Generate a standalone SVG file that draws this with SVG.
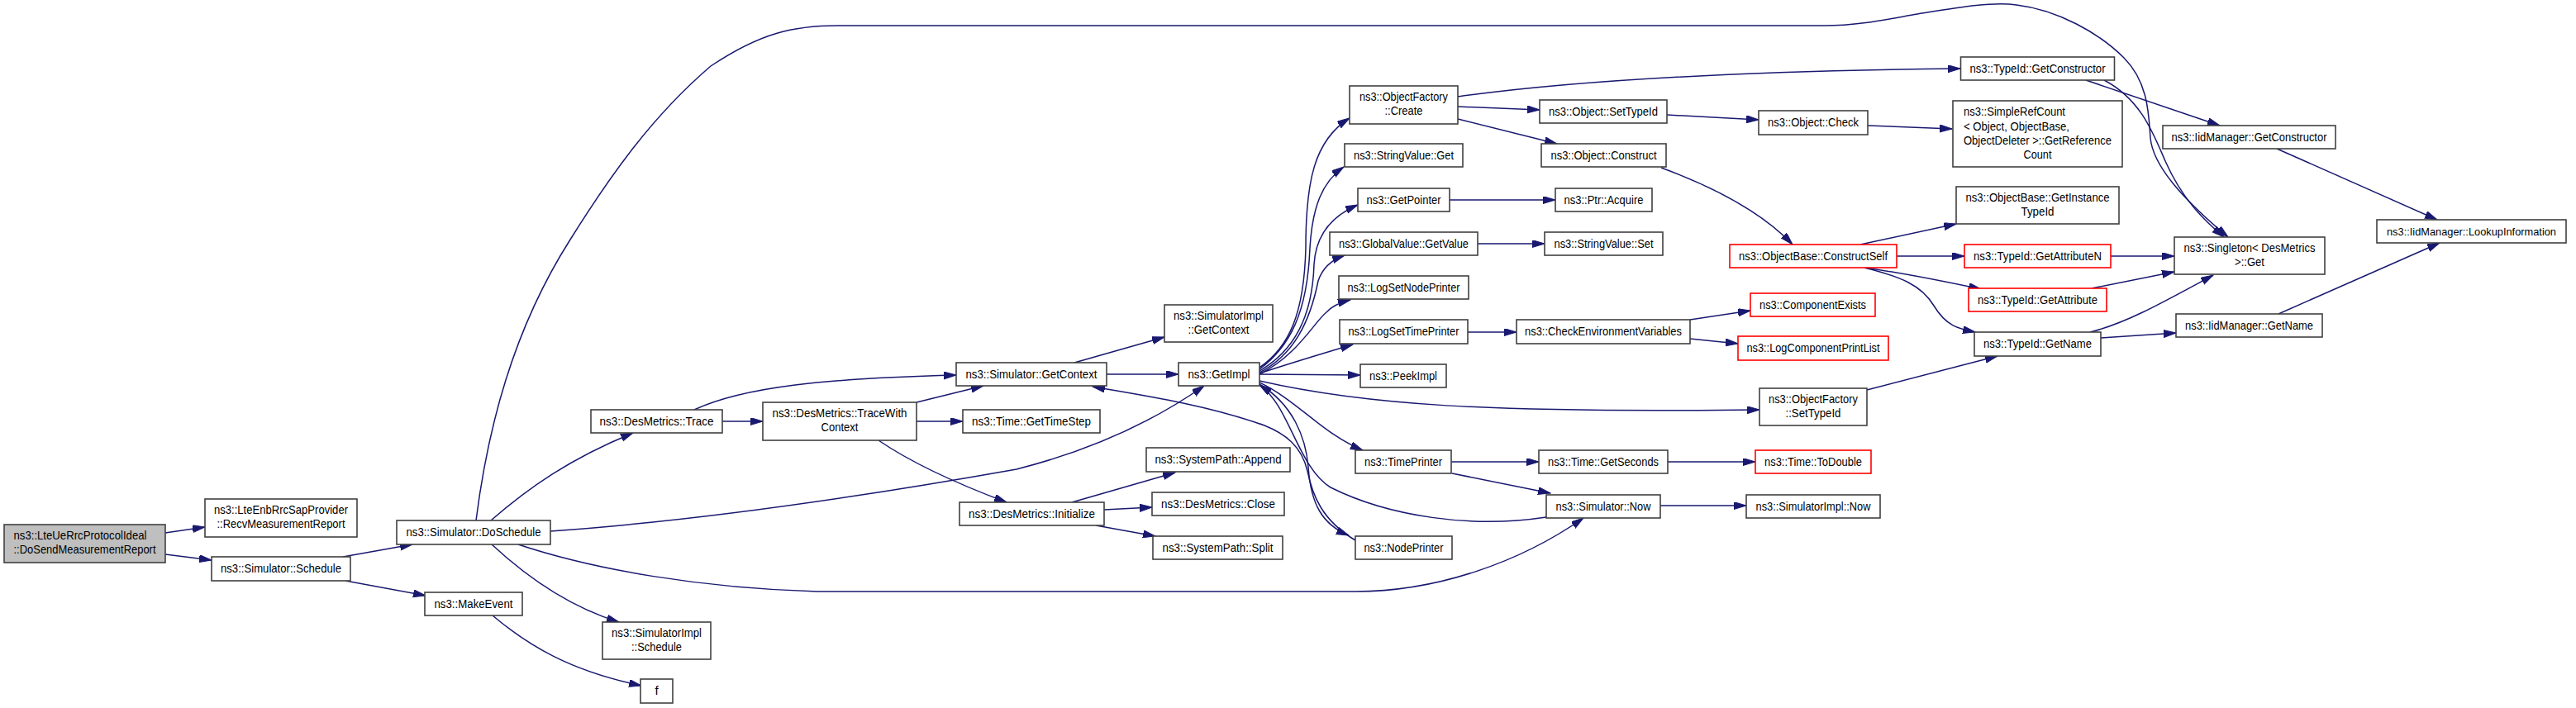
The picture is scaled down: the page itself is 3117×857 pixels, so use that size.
<svg xmlns="http://www.w3.org/2000/svg" width="3117" height="857" viewBox="0 0 3117 857">
<style>
.n rect{fill:#fff;stroke:#404040;stroke-width:1.6}
.r rect{fill:#fff;stroke:#ff0000;stroke-width:1.6}
.m rect{fill:#bfbfbf;stroke:#404040;stroke-width:1.6}
text{font-family:"Liberation Sans",Arial,sans-serif;font-size:15px;fill:#000;text-anchor:middle}
text.l{text-anchor:start}
text.s{font-size:13.5px}
#edges path{fill:none;stroke:#191970;stroke-width:1.5;marker-end:url(#a)}
</style>
<defs>
<marker id="a" markerUnits="userSpaceOnUse" markerWidth="16" markerHeight="10" refX="15" refY="4.5" orient="auto">
<path d="M0,0 L15,4.5 L0,9 Z" fill="#191970" stroke="#191970" stroke-width="1"/>
</marker>
</defs>
<rect width="3117" height="857" fill="#fff"/>
<g id="edges">
<path d="M200,645 L248,638"/>
<path d="M200,671 L256,678"/>
<path d="M415,674 L499,659"/>
<path d="M418,703 L515,721"/>
<path d="M596,745 C640,782 690,812 776,830"/>
<path d="M595,659 C650,710 700,738 749,753"/>
<path d="M594,630 C640,590 690,555 766,524"/>
<path d="M576,630 C590,520 620,400 690,290 C740,210 790,140 860,80 C920,40 960,31 1014,31 L2207,31 C2250,31 2290,22 2320,17 C2370,9 2410,2 2440,6 C2490,12 2540,40 2570,70 C2600,100 2600,140 2602,167 C2605,200 2640,240 2696,287"/>
<path d="M666,643 C850,630 1050,600 1230,568 C1340,540 1410,500 1457,467"/>
<path d="M627,659 C720,690 850,712 989,716 L1640,716 C1740,716 1840,680 1916,627"/>
<path d="M840,496 C900,468 1000,458 1157,454"/>
<path d="M874,510 L923,510"/>
<path d="M1109,487 L1190,467"/>
<path d="M1109,510 L1165,510"/>
<path d="M1063,533 C1110,565 1170,590 1218,608"/>
<path d="M1300,439 L1409,408"/>
<path d="M1339,453 L1426,453"/>
<path d="M1297,608 L1422,572"/>
<path d="M1336,617 L1394,614"/>
<path d="M1326,636 L1398,649"/>
<path d="M1524,445 C1560,420 1578,380 1580,300 C1580,220 1590,170 1633,143"/>
<path d="M1524,447 C1560,420 1582,380 1585,300 C1588,250 1600,220 1626,202"/>
<path d="M1524,449 C1565,425 1588,385 1590,320 C1592,285 1610,262 1643,248"/>
<path d="M1524,451 C1565,430 1585,390 1595,340 C1600,325 1610,315 1627,309"/>
<path d="M1524,453 C1570,430 1590,390 1605,378 C1612,370 1622,366 1634,363"/>
<path d="M1524,452 C1560,440 1600,428 1637,417"/>
<path d="M1524,453 L1646,454"/>
<path d="M1524,461 C1650,490 1800,500 2129,496"/>
<path d="M1524,463 C1570,485 1600,525 1649,545"/>
<path d="M1524,465 C1565,490 1580,530 1583,565 C1586,610 1600,635 1632,648"/>
<path d="M1640,654 C1600,630 1588,600 1582,570 C1575,540 1555,525 1530,515 C1460,490 1380,478 1322,468"/>
<path d="M1871,626 C1780,640 1680,625 1610,590 C1570,565 1560,490 1524,466"/>
<path d="M1757,573 L1876,597"/>
<path d="M2009,612 L2113,612"/>
<path d="M1756,559 L1862,559"/>
<path d="M2018,559 L2124,559"/>
<path d="M1788,295 L1869,295"/>
<path d="M1776,402 L1835,402"/>
<path d="M2045,387 L2118,376"/>
<path d="M2045,410 L2103,416"/>
<path d="M1764,117 C1900,98 2100,86 2372,83"/>
<path d="M1764,129 L1863,133"/>
<path d="M1764,144 L1884,174"/>
<path d="M2017,139 L2128,145"/>
<path d="M2260,152 L2362,156"/>
<path d="M2010,203 C2070,225 2130,255 2169,296"/>
<path d="M1754,242 L1882,242"/>
<path d="M2251,296 L2367,271"/>
<path d="M2295,310 L2377,310"/>
<path d="M2256,324 C2300,330 2350,340 2397,350"/>
<path d="M2256,324 C2300,335 2325,345 2340,370 C2355,395 2370,398 2390,402"/>
<path d="M2259,472 L2417,431"/>
<path d="M2554,310 L2631,310"/>
<path d="M2531,349 L2631,329"/>
<path d="M2529,402 C2570,392 2610,370 2678,333"/>
<path d="M2542,409 L2633,403"/>
<path d="M2757,380 L2952,294"/>
<path d="M2524,97 L2686,152"/>
<path d="M2546,97 C2590,120 2605,160 2620,195 C2640,240 2665,265 2691,287"/>
<path d="M2755,180 L2949,266"/>
</g>
<g id="main" class="m"><rect x="5" y="635" width="195" height="46"/><text class="l" x="16.5" y="653" textLength="161" lengthAdjust="spacingAndGlyphs">ns3::LteUeRrcProtocolIdeal</text><text x="102.5" y="670" textLength="172" lengthAdjust="spacingAndGlyphs">::DoSendMeasurementReport</text></g>
<g id="lteEnb" class="n"><rect x="248" y="604" width="184" height="46"/><text x="340" y="622" textLength="162" lengthAdjust="spacingAndGlyphs">ns3::LteEnbRrcSapProvider</text><text x="340" y="639" textLength="155" lengthAdjust="spacingAndGlyphs">::RecvMeasurementReport</text></g>
<g id="schedule" class="n"><rect x="256" y="674" width="168" height="29"/><text x="340" y="693" textLength="146" lengthAdjust="spacingAndGlyphs">ns3::Simulator::Schedule</text></g>
<g id="doSchedule" class="n"><rect x="480" y="630" width="186" height="29"/><text x="573" y="649" textLength="163" lengthAdjust="spacingAndGlyphs">ns3::Simulator::DoSchedule</text></g>
<g id="makeEvent" class="n"><rect x="514" y="717" width="118" height="28"/><text x="573" y="735.5" textLength="95" lengthAdjust="spacingAndGlyphs">ns3::MakeEvent</text></g>
<g id="simImplSchedule" class="n"><rect x="729" y="753" width="131" height="45"/><text x="794.5" y="771" textLength="109" lengthAdjust="spacingAndGlyphs">ns3::SimulatorImpl</text><text x="794.5" y="788" textLength="61" lengthAdjust="spacingAndGlyphs">::Schedule</text></g>
<g id="f" class="n"><rect x="775" y="822" width="39" height="29"/><text x="794.5" y="841">f</text></g>
<g id="trace" class="n"><rect x="715" y="496" width="159" height="28"/><text x="794.5" y="514.5" textLength="138" lengthAdjust="spacingAndGlyphs">ns3::DesMetrics::Trace</text></g>
<g id="traceWithContext" class="n"><rect x="923" y="487" width="186" height="46"/><text x="1016" y="505" textLength="163" lengthAdjust="spacingAndGlyphs">ns3::DesMetrics::TraceWith</text><text x="1016" y="522" textLength="45" lengthAdjust="spacingAndGlyphs">Context</text></g>
<g id="getContext" class="n"><rect x="1157" y="439" width="182" height="28"/><text x="1248" y="457.5" textLength="159" lengthAdjust="spacingAndGlyphs">ns3::Simulator::GetContext</text></g>
<g id="getTimeStep" class="n"><rect x="1165" y="496" width="166" height="28"/><text x="1248" y="514.5" textLength="144" lengthAdjust="spacingAndGlyphs">ns3::Time::GetTimeStep</text></g>
<g id="initialize" class="n"><rect x="1161" y="608" width="175" height="28"/><text x="1248.5" y="626.5" textLength="153" lengthAdjust="spacingAndGlyphs">ns3::DesMetrics::Initialize</text></g>
<g id="getImpl" class="n"><rect x="1426" y="439" width="98" height="28"/><text x="1475" y="457.5" textLength="75" lengthAdjust="spacingAndGlyphs">ns3::GetImpl</text></g>
<g id="simImplGetContext" class="n"><rect x="1409" y="369" width="131" height="45"/><text x="1474.5" y="387" textLength="109" lengthAdjust="spacingAndGlyphs">ns3::SimulatorImpl</text><text x="1474.5" y="404" textLength="74" lengthAdjust="spacingAndGlyphs">::GetContext</text></g>
<g id="append" class="n"><rect x="1387" y="542" width="174" height="29"/><text x="1474" y="561" textLength="153" lengthAdjust="spacingAndGlyphs">ns3::SystemPath::Append</text></g>
<g id="close" class="n"><rect x="1394" y="596" width="160" height="28"/><text x="1474" y="614.5" textLength="138" lengthAdjust="spacingAndGlyphs">ns3::DesMetrics::Close</text></g>
<g id="split" class="n"><rect x="1395" y="649" width="157" height="28"/><text x="1473.5" y="667.5" textLength="134" lengthAdjust="spacingAndGlyphs">ns3::SystemPath::Split</text></g>
<g id="create" class="n"><rect x="1633" y="104" width="131" height="46"/><text x="1698.5" y="122" textLength="107" lengthAdjust="spacingAndGlyphs">ns3::ObjectFactory</text><text x="1698.5" y="139" textLength="46" lengthAdjust="spacingAndGlyphs">::Create</text></g>
<g id="stringValueGet" class="n"><rect x="1627" y="174" width="143" height="28"/><text x="1698.5" y="192.5" textLength="121" lengthAdjust="spacingAndGlyphs">ns3::StringValue::Get</text></g>
<g id="getPointer" class="n"><rect x="1643" y="228" width="111" height="28"/><text x="1698.5" y="246.5" textLength="90" lengthAdjust="spacingAndGlyphs">ns3::GetPointer</text></g>
<g id="globalGetValue" class="n"><rect x="1609" y="281" width="179" height="28"/><text x="1698.5" y="299.5" textLength="157" lengthAdjust="spacingAndGlyphs">ns3::GlobalValue::GetValue</text></g>
<g id="logSetNodePrinter" class="n"><rect x="1620" y="334" width="157" height="28"/><text x="1698.5" y="352.5" textLength="136" lengthAdjust="spacingAndGlyphs">ns3::LogSetNodePrinter</text></g>
<g id="logSetTimePrinter" class="n"><rect x="1621" y="387" width="155" height="29"/><text x="1698.5" y="406" textLength="134" lengthAdjust="spacingAndGlyphs">ns3::LogSetTimePrinter</text></g>
<g id="peekImpl" class="n"><rect x="1646" y="441" width="104" height="28"/><text x="1698" y="459.5" textLength="82" lengthAdjust="spacingAndGlyphs">ns3::PeekImpl</text></g>
<g id="timePrinter" class="n"><rect x="1640" y="545" width="116" height="28"/><text x="1698" y="563.5" textLength="94" lengthAdjust="spacingAndGlyphs">ns3::TimePrinter</text></g>
<g id="nodePrinter" class="n"><rect x="1640" y="649" width="117" height="28"/><text x="1698.5" y="667.5" textLength="96" lengthAdjust="spacingAndGlyphs">ns3::NodePrinter</text></g>
<g id="objSetTypeId" class="n"><rect x="1863" y="121" width="154" height="28"/><text x="1940" y="139.5" textLength="132" lengthAdjust="spacingAndGlyphs">ns3::Object::SetTypeId</text></g>
<g id="objConstruct" class="n"><rect x="1865" y="174" width="151" height="28"/><text x="1940.5" y="192.5" textLength="128" lengthAdjust="spacingAndGlyphs">ns3::Object::Construct</text></g>
<g id="ptrAcquire" class="n"><rect x="1882" y="228" width="117" height="28"/><text x="1940.5" y="246.5" textLength="96" lengthAdjust="spacingAndGlyphs">ns3::Ptr::Acquire</text></g>
<g id="stringValueSet" class="n"><rect x="1869" y="281" width="143" height="28"/><text x="1940.5" y="299.5" textLength="120" lengthAdjust="spacingAndGlyphs">ns3::StringValue::Set</text></g>
<g id="checkEnv" class="n"><rect x="1835" y="387" width="210" height="29"/><text x="1940" y="406" textLength="190" lengthAdjust="spacingAndGlyphs">ns3::CheckEnvironmentVariables</text></g>
<g id="getSeconds" class="n"><rect x="1862" y="545" width="156" height="28"/><text x="1940" y="563.5" textLength="134" lengthAdjust="spacingAndGlyphs">ns3::Time::GetSeconds</text></g>
<g id="now" class="n"><rect x="1871" y="599" width="138" height="28"/><text x="1940" y="617.5" textLength="115" lengthAdjust="spacingAndGlyphs">ns3::Simulator::Now</text></g>
<g id="objCheck" class="n"><rect x="2128" y="134" width="132" height="29"/><text x="2194" y="153" textLength="110" lengthAdjust="spacingAndGlyphs">ns3::Object::Check</text></g>
<g id="constructSelf" class="r"><rect x="2093" y="296" width="202" height="28"/><text x="2194" y="314.5" textLength="180" lengthAdjust="spacingAndGlyphs">ns3::ObjectBase::ConstructSelf</text></g>
<g id="componentExists" class="r"><rect x="2118" y="355" width="151" height="28"/><text x="2193.5" y="373.5" textLength="129" lengthAdjust="spacingAndGlyphs">ns3::ComponentExists</text></g>
<g id="logComponentPrintList" class="r"><rect x="2103" y="407" width="182" height="29"/><text x="2194" y="426" textLength="161" lengthAdjust="spacingAndGlyphs">ns3::LogComponentPrintList</text></g>
<g id="ofSetTypeId" class="n"><rect x="2129" y="470" width="130" height="45"/><text x="2194" y="488" textLength="108" lengthAdjust="spacingAndGlyphs">ns3::ObjectFactory</text><text x="2194" y="505" textLength="67" lengthAdjust="spacingAndGlyphs">::SetTypeId</text></g>
<g id="toDouble" class="r"><rect x="2124" y="545" width="140" height="28"/><text x="2194" y="563.5" textLength="118" lengthAdjust="spacingAndGlyphs">ns3::Time::ToDouble</text></g>
<g id="simImplNow" class="n"><rect x="2113" y="599" width="162" height="28"/><text x="2194" y="617.5" textLength="139" lengthAdjust="spacingAndGlyphs">ns3::SimulatorImpl::Now</text></g>
<g id="typeIdGetConstructor" class="n"><rect x="2372.5" y="69" width="186" height="28"/><text x="2465.5" y="87.5" textLength="164" lengthAdjust="spacingAndGlyphs">ns3::TypeId::GetConstructor</text></g>
<g id="simpleRefCount" class="n"><rect x="2363" y="122" width="205" height="80"/><text class="l" x="2376" y="140" textLength="123" lengthAdjust="spacingAndGlyphs">ns3::SimpleRefCount</text><text class="l" x="2376" y="157.5" textLength="128" lengthAdjust="spacingAndGlyphs">&lt; Object, ObjectBase,</text><text class="l" x="2376" y="175" textLength="179" lengthAdjust="spacingAndGlyphs">ObjectDeleter &gt;::GetReference</text><text x="2465.5" y="192" textLength="34" lengthAdjust="spacingAndGlyphs">Count</text></g>
<g id="getInstanceTypeId" class="n"><rect x="2367" y="226" width="197" height="45"/><text x="2465.5" y="244" textLength="174" lengthAdjust="spacingAndGlyphs">ns3::ObjectBase::GetInstance</text><text x="2465.5" y="261" textLength="40" lengthAdjust="spacingAndGlyphs">TypeId</text></g>
<g id="getAttributeN" class="r"><rect x="2377" y="296" width="177" height="28"/><text x="2465.5" y="314.5" textLength="155" lengthAdjust="spacingAndGlyphs">ns3::TypeId::GetAttributeN</text></g>
<g id="getAttribute" class="r"><rect x="2382" y="349" width="167" height="28"/><text x="2465.5" y="367.5" textLength="145" lengthAdjust="spacingAndGlyphs">ns3::TypeId::GetAttribute</text></g>
<g id="typeIdGetName" class="n"><rect x="2389" y="402" width="153" height="29"/><text x="2465.5" y="421" textLength="131" lengthAdjust="spacingAndGlyphs">ns3::TypeId::GetName</text></g>
<g id="iidGetConstructor" class="n"><rect x="2617" y="152" width="209" height="28"/><text x="2721.5" y="170.5" textLength="188" lengthAdjust="spacingAndGlyphs">ns3::IidManager::GetConstructor</text></g>
<g id="singleton" class="n"><rect x="2631" y="287" width="182" height="45"/><text x="2722" y="305" textLength="159" lengthAdjust="spacingAndGlyphs">ns3::Singleton&lt; DesMetrics</text><text x="2722" y="322" textLength="36" lengthAdjust="spacingAndGlyphs">&gt;::Get</text></g>
<g id="iidGetName" class="n"><rect x="2633" y="380" width="177" height="28"/><text x="2721.5" y="398.5" textLength="155" lengthAdjust="spacingAndGlyphs">ns3::IidManager::GetName</text></g>
<g id="lookupInformation" class="n"><rect x="2876" y="266" width="229" height="28"/><text class="s" x="2990.5" y="284.5" textLength="205" lengthAdjust="spacingAndGlyphs">ns3::IidManager::LookupInformation</text></g>
</svg>
